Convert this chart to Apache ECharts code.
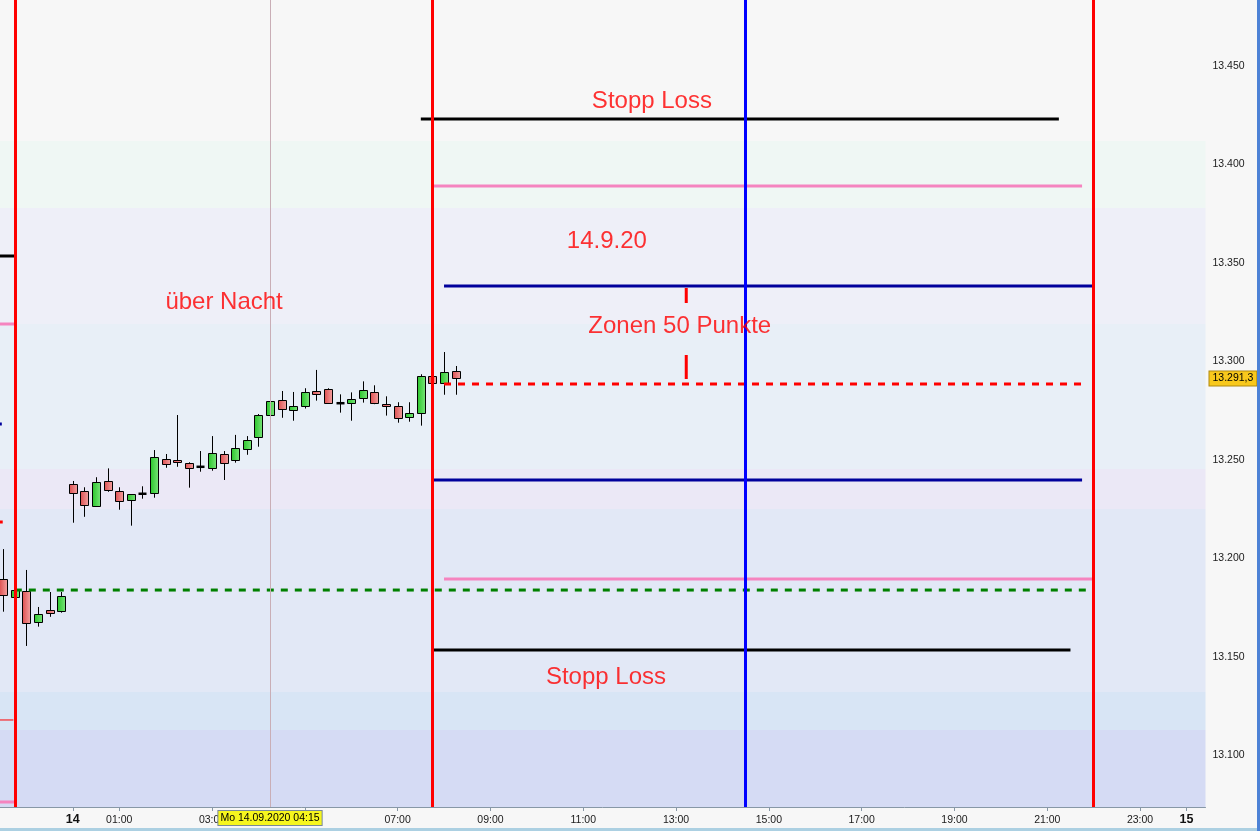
<!DOCTYPE html>
<html><head><meta charset="utf-8">
<script src="https://cdn.jsdelivr.net/npm/echarts@6/dist/echarts.min.js"></script>
<style>
html,body{margin:0;padding:0;background:#f7f7f7;}
#wrap{position:relative;width:1260px;height:831px;overflow:hidden;}
#chart{position:absolute;left:0;top:0;width:1257px;height:828px;}
#rb{position:absolute;left:1257px;top:0;width:3px;height:831px;background:#4d82d6;}
#bb{position:absolute;left:0;top:828px;width:1257px;height:3px;background:#acd0e2;}
</style></head>
<body><div id="wrap"><div id="chart"></div><div id="rb"></div><div id="bb"></div></div>
<script>
// ---------- DATA ----------
const candleTimes = ['13 22:30','13 22:45','13 23:00','13 23:15','13 23:30','13 23:45',
 '14 00:00','14 00:15','14 00:30','14 00:45','14 01:00','14 01:15','14 01:30','14 01:45',
 '14 02:00','14 02:15','14 02:30','14 02:45','14 03:00','14 03:15','14 03:30','14 03:45',
 '14 04:00','14 04:15','14 04:30','14 04:45','14 05:00','14 05:15','14 05:30','14 05:45',
 '14 06:00','14 06:15','14 06:30','14 06:45','14 07:00','14 07:15','14 07:30','14 07:45',
 '14 08:00','14 08:15'];
const opens = [13189.4,13180.5,13183.4,13167.5,13173.8,13173.4,
 13237.6,13234.0,13226.4,13239.1,13234.0,13229.5,13232.8,13233.0,13250.3,13249.8,13248.3,13246.5,
 13246.0,13252.8,13249.6,13255.2,13261.3,13272.5,13280.3,13275.0,13277.1,13284.8,13285.9,13278.8,
 13278.8,13281.3,13284.3,13278.2,13277.2,13271.6,13273.7,13292.5,13288.9,13295.0];
const closes = [13181.2,13183.9,13167.0,13171.7,13172.4,13180.9,
 13233.0,13226.9,13238.6,13234.6,13229.0,13232.5,13232.8,13251.3,13247.8,13248.8,13245.7,13246.5,
 13253.4,13248.1,13255.9,13260.0,13272.7,13279.8,13275.5,13277.2,13284.3,13283.2,13278.8,13278.8,
 13280.8,13285.4,13278.8,13277.2,13271.1,13273.7,13292.5,13288.9,13294.5,13291.3];
const highs = [13204.7,13184.9,13194.1,13175.3,13182.9,13182.9,
 13239.3,13236.1,13241.2,13245.7,13236.1,13232.5,13236.6,13255.0,13253.0,13272.8,13248.8,13254.5,
 13262.1,13254.5,13262.7,13262.1,13273.3,13283.5,13285.0,13284.5,13286.4,13295.7,13286.4,13283.3,
 13284.3,13289.9,13287.9,13282.3,13279.3,13279.3,13293.5,13293.6,13304.8,13297.7];
const lows = [13172.9,13179.9,13155.5,13165.3,13170.3,13172.4,
 13218.1,13221.1,13226.4,13233.8,13224.7,13216.6,13230.3,13230.8,13246.0,13246.5,13235.9,13244.0,
 13244.5,13239.8,13248.6,13252.6,13256.7,13269.9,13271.4,13269.9,13276.1,13280.1,13278.8,13274.0,
 13269.9,13279.1,13278.3,13272.5,13268.9,13269.4,13267.4,13287.5,13283.1,13283.1];

// horizontal levels (price, from hour, to hour) – hours relative to 14.09. 00:00
const levelValues = [13423.2, 13389.1, 13338.3, 13288.6, 13239.8, 13189.5, 13183.9, 13153.4];
const levelFrom   = [7.5, 7.75, 8.0, 8.0, 7.75, 8.0, -1.25, 7.75];
const levelTo     = [21.25, 21.75, 22.0, 21.75, 21.75, 22.0, 22.0, 21.5];

// previous-day level stubs at the left edge
const stubValues = [13353.6, 13319.0, 13268.2, 13218.5, 13117.9, 13076.2];
const stubTo     = [-1.25, -1.25, -1.53, -1.51, -1.28, -1.25];

// vertical markers (hours)
const verticalHours = [-1.25, 7.75, 14.5, 22.0];
const crosshairHour = 4.25;
const crosshairLabel = 'Mo 14.09.2020 04:15';
const lastPrice = 13291.3;
const lastPriceLabel = '13.291,3';

// zone marker ticks
const zoneTickHour = 13.22;
const zoneTicks = [[13337.3, 13329.7], [13303.3, 13291.1]];

// text annotations [hour, price, text]
const annotations = [
  [12.48, 13432.3, 'Stopp Loss'],
  [11.51, 13361.2, '14.9.20'],
  [3.26, 13330.2, 'über Nacht'],
  [13.08, 13318.0, 'Zonen 50 Punkte'],
  [11.49, 13139.7, 'Stopp Loss']
];

// background zone edges (price)
const bandEdges = [13483.6, 13412.0, 13378.0, 13319.0, 13245.4, 13225.1, 13132.1, 13112.8, 13073.7];

// axes
const xMin = -1.569, xMax = 24.41;
const yMin = 13073.7, yMax = 13483.6;
const xTickHours = [0,1,3,5,7,9,11,13,15,17,19,21,23,24];
const xTickLabels = ['14','01:00','03:00','05:00','07:00','09:00','11:00','13:00','15:00','17:00','19:00','21:00','23:00','15'];
const yTickValues = [13100,13150,13200,13250,13300,13350,13400,13450];

// ---------- STYLES ----------
const FONT = 'Liberation Sans, Arial, sans-serif';
const bandColors = ['#f7f7f7','#eff7f4','#eeeff8','#e8eff7','#ebe8f6','#e2e8f6','#d8e5f5','#d5dbf4'];
const levelStyles = [
  {color:'#000000', width:3, type:'solid'},
  {color:'#f584bf', width:3, type:'solid'},
  {color:'#00009c', width:3, type:'solid'},
  {color:'#ff0000', width:3, type:[7,7]},
  {color:'#00009c', width:3, type:'solid'},
  {color:'#f584bf', width:3, type:'solid'},
  {color:'#008000', width:3, type:[7,7]},
  {color:'#000000', width:3, type:'solid'}
];
const stubStyles = [
  {color:'#000000', width:3},{color:'#f584bf', width:3},{color:'#00009c', width:3},
  {color:'#ff0000', width:3},{color:'#ff0000', width:1},{color:'#f584bf', width:3}
];
const verticalColors = ['#ff0000','#ff0000','#0000ff','#ff0000'];

// ---------- BUILD ----------
function parseTime(s){
  const [d, hm] = s.split(' ');
  const [hh, mm] = hm.split(':').map(Number);
  return (Number(d) - 14) * 24 + hh + mm / 60;
}
const candleData = candleTimes.map((t, i) => [parseTime(t), opens[i], closes[i], lows[i], highs[i]]);

const redGrad = new echarts.graphic.LinearGradient(0,0,1,0,[{offset:0,color:'#dc4c4c'},{offset:1,color:'#f4a4a4'}]);
const greenGrad = new echarts.graphic.LinearGradient(0,0,1,0,[{offset:0,color:'#28c428'},{offset:1,color:'#7ce67c'}]);

function renderCandle(params, api){
  const h = api.value(0), o = api.value(1), c = api.value(2), lo = api.value(3), hi = api.value(4);
  const pO = api.coord([h,o]), pC = api.coord([h,c]), pL = api.coord([h,lo]), pH = api.coord([h,hi]);
  const w = Math.round(api.size([0.25,0])[0]*0.7);
  const x = Math.round(pO[0]) + 0.5;
  const children = [{type:'line', shape:{x1:x, y1:pH[1], x2:x, y2:pL[1]}, style:{stroke:'#000', lineWidth:1}}];
  const top = Math.min(pO[1], pC[1]), bot = Math.max(pO[1], pC[1]);
  if (bot - top < 1.5) {
    children.push({type:'line', shape:{x1:x-w/2, y1:top, x2:x+w/2, y2:top}, style:{stroke:'#000', lineWidth:2.5}});
  } else {
    children.push({type:'rect', shape:{x:x-w/2, y:Math.round(top)+0.5, width:w, height:Math.round(bot-top)},
      style:{fill: c > o ? greenGrad : redGrad, stroke:'#000', lineWidth:1}});
  }
  return {type:'group', children};
}

const series = [];

// background zones
series.push({
  type:'line', data:[], z:0, silent:true,
  markArea:{silent:true, data: bandColors.map((col, i) => [
    {yAxis: bandEdges[i], itemStyle:{color: col}}, {yAxis: bandEdges[i+1]}
  ])}
});

// candles
series.push({
  type:'custom', z:2, data: candleData, renderItem: renderCandle, encode:{x:0, y:[1,2,3,4]}, clip:true
});

// last price label on the axis
series.push({
  type:'line', data:[], z:7, silent:true,
  markLine:{
    silent:true, symbol:['none','none'], animation:false,
    data:[{yAxis: lastPrice, lineStyle:{color:'rgba(0,0,0,0)', width:0},
      label:{show:true, position:'end', distance:4, formatter: lastPriceLabel, color:'#000',
        fontFamily:FONT, fontSize:10.5, backgroundColor:'#f8c81c', borderColor:'#b08a10', borderWidth:1,
        padding:[2,3,1,3]}}]
  }
});

// crosshair
series.push({
  type:'line', data:[], z:1, silent:true,
  markLine:{silent:true, symbol:['none','none'], animation:false,
    data:[{xAxis: crosshairHour, lineStyle:{color:'#c9aeb6', width:1, type:'solid'},
      label:{show:true, position:'start', distance:4, formatter: crosshairLabel, color:'#000',
        fontFamily:FONT, fontSize:10.5, backgroundColor:'#f6f61e', borderColor:'#7a8a96', borderWidth:1,
        padding:[2,2,1,2]}}]}
});

// levels
levelValues.forEach((v, i) => {
  const st = levelStyles[i];
  series.push({type:'line', z:4, silent:true, symbol:'none', data:[[levelFrom[i], v],[levelTo[i], v]],
    lineStyle:{color:st.color, width:st.width, type:st.type}});
});
stubValues.forEach((v, i) => {
  const st = stubStyles[i];
  series.push({type:'line', z:4, silent:true, symbol:'none', data:[[xMin, v],[stubTo[i], v]],
    lineStyle:{color:st.color, width:st.width}});
});
zoneTicks.forEach(seg => {
  series.push({type:'line', z:4, silent:true, symbol:'none', data:[[zoneTickHour, seg[0]],[zoneTickHour, seg[1]]],
    lineStyle:{color:'#ff0000', width:3}});
});

// vertical markers
series.push({
  type:'line', data:[], z:5, silent:true,
  markLine:{silent:true, symbol:['none','none'], animation:false, label:{show:false},
    data: verticalHours.map((h, i) => ({xAxis:h, lineStyle:{color:verticalColors[i], width:3, type:'solid'}}))}
});

// annotations
series.push({
  type:'scatter', z:6, silent:true, symbolSize:1, itemStyle:{color:'rgba(0,0,0,0)'},
  data: annotations,
  label:{show:true, position:'inside', formatter: p => p.data[2], color:'#ff0000', fontSize:24, fontFamily:FONT}
});

const chart = echarts.init(document.getElementById('chart'), null, {renderer:'canvas'});
chart.setOption({
  animation:false,
  backgroundColor:'#f7f7f7',
  grid:{left:0, right:51.5, top:0, bottom:21},
  xAxis:{type:'value', min:xMin, max:xMax,
    axisLine:{show:true, onZero:false, lineStyle:{color:'#8797a6', width:1}},
    axisTick:{show:true, customValues:xTickHours, length:4, lineStyle:{color:'#8797a6'}},
    axisLabel:{customValues:xTickHours, margin:6, color:'#1a1a1a', fontSize:10.5, fontFamily:FONT,
      formatter: v => { const i = xTickHours.indexOf(v); const t = xTickLabels[i];
        return (v === 0 || v === 24) ? '{b|' + t + '}' : '{n|' + t + '}'; },
      rich:{b:{fontWeight:'bold', fontSize:12.5, fontFamily:FONT, color:'#111', lineHeight:14},
            n:{fontSize:10.5, fontFamily:FONT, color:'#1a1a1a', lineHeight:14}}},
    splitLine:{show:false}},
  yAxis:{type:'value', position:'right', min:yMin, max:yMax,
    axisLine:{show:true, lineStyle:{color:'#8797a6', width:1}},
    axisTick:{show:true, customValues:yTickValues, length:4, lineStyle:{color:'#5a6470'}},
    axisLabel:{customValues:yTickValues, margin:7, color:'#1a1a1a', fontSize:10.5, fontFamily:FONT,
      formatter: v => Math.floor(v/1000) + '.' + String(Math.round(v%1000)).padStart(3,'0')},
    splitLine:{show:false}},
  series
});
</script>
</body></html>
